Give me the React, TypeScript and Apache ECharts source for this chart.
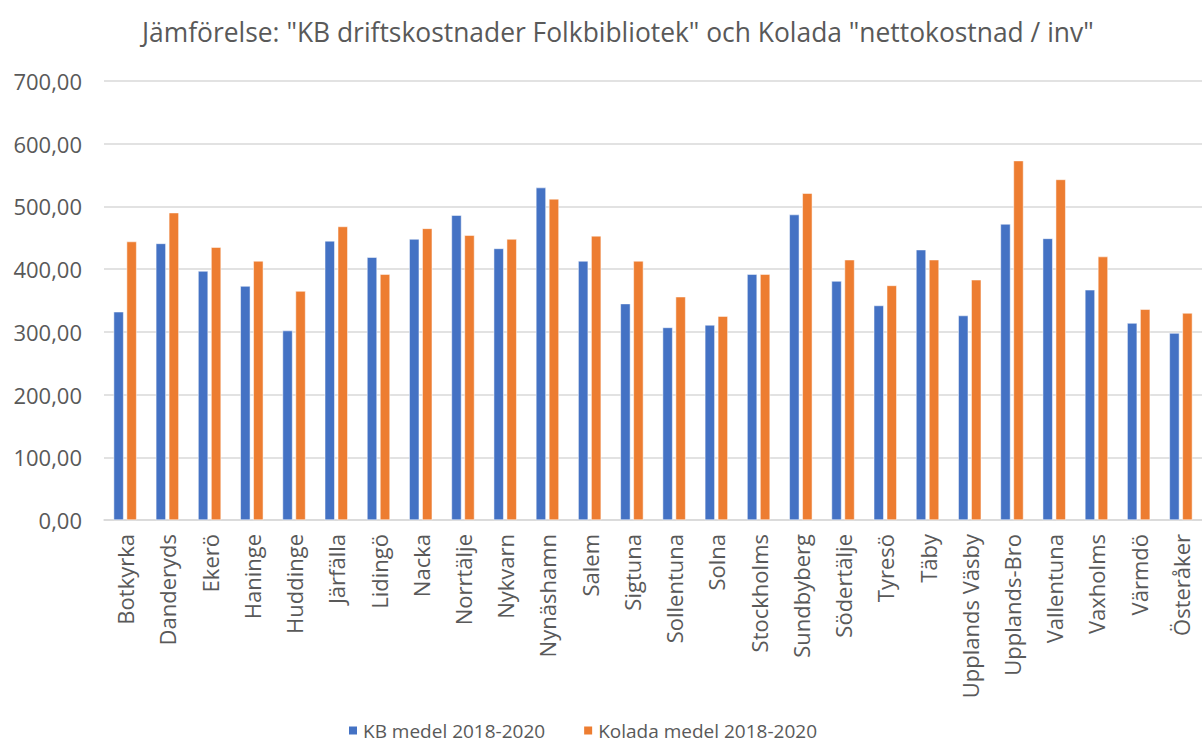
import React, { useEffect, useRef } from "react";
import * as echarts from "echarts";

const categories = [
  "Botkyrka", "Danderyds", "Ekerö", "Haninge", "Huddinge", "Järfälla", "Lidingö", "Nacka",
  "Norrtälje", "Nykvarn", "Nynäshamn", "Salem", "Sigtuna", "Sollentuna", "Solna", "Stockholms",
  "Sundbyberg", "Södertälje", "Tyresö", "Täby", "Upplands Väsby", "Upplands-Bro", "Vallentuna",
  "Vaxholms", "Värmdö", "Österåker",
];
const kbValues = [
  332, 441, 397, 373, 302, 445, 419, 448, 486, 433, 530, 413, 345, 307, 311, 392,
  487, 381, 342, 431, 326, 472, 449, 367, 314, 298,
];
const koladaValues = [
  444, 490, 435, 413, 365, 468, 392, 465, 454, 448, 512, 453, 413, 356, 325, 392,
  521, 415, 374, 415, 383, 573, 543, 420, 336, 330,
];
const seriesNames = ["KB medel 2018-2020", "Kolada medel 2018-2020"];
const titleText = 'Jämförelse: "KB driftskostnader Folkbibliotek" och Kolada "nettokostnad / inv"';

export default function App() {
  const ref = useRef<HTMLDivElement>(null);
  useEffect(() => {
    if (!ref.current) return;
    const chart = echarts.init(ref.current, undefined, { renderer: "svg" });
    const font = "Open Sans";
    chart.setOption({
      animation: false,
      backgroundColor: "#fff",
      title: {
        text: titleText,
        left: 137,
        top: 14,
        textStyle: { fontFamily: font, fontSize: 26.4, fontWeight: "normal", color: "#595959" },
      },
      legend: {
        top: 716,
        left: 342,
        itemWidth: 10,
        itemHeight: 10,
        itemGap: 37,
        icon: "rect",
        textStyle: { fontFamily: font, fontSize: 19, color: "#595959" },
        data: seriesNames,
      },
      grid: { left: 104, right: -9, top: 81, bottom: 225, containLabel: false },
      xAxis: {
        type: "category",
        data: categories,
        axisLine: { lineStyle: { color: "#d9d9d9", width: 1.5 } },
        axisTick: { show: false },
        axisLabel: {
          rotate: 90,
          interval: 0,
          fontFamily: font,
          fontSize: 22,
          color: "#595959",
          margin: 14,
        },
      },
      yAxis: {
        type: "value",
        min: 0,
        max: 700,
        interval: 100,
        axisLine: { show: false },
        axisTick: { show: false },
        splitLine: { lineStyle: { color: "#d9d9d9", width: 1.5 } },
        axisLabel: {
          fontFamily: font,
          fontSize: 22,
          color: "#595959",
          margin: 22,
          formatter: (v: number) => v.toFixed(2).replace(".", ","),
        },
      },
      series: [
        {
          name: seriesNames[0],
          type: "bar",
          data: kbValues,
          barWidth: 10,
          barGap: "30%",
          itemStyle: { color: "#4472c4", borderColor: "#fff", borderWidth: 0.5 },
        },
        {
          name: seriesNames[1],
          type: "bar",
          data: koladaValues,
          barWidth: 10,
          itemStyle: { color: "#ed7d31", borderColor: "#fff", borderWidth: 0.5 },
        },
      ],
    });
    return () => chart.dispose();
  }, []);
  return (
    <div
      ref={ref}
      style={{ position: "fixed", left: 0, top: 0, width: 1202, height: 745 }}
    />
  );
}
